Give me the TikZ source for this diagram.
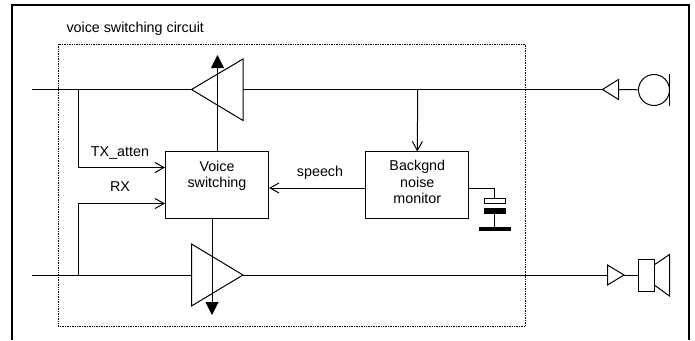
\documentclass[tikz,border=0pt]{standalone}
\usepackage{fontspec}
\setmainfont{Liberation Sans}
\usetikzlibrary{arrows.meta,calc}

\begin{document}
\begin{tikzpicture}[x=1pt, y=-1pt, line width=1pt,
		>={Straight Barb[length=9pt,width=10pt]},
		every node/.style={font=\fontsize{14.3}{16.2}\selectfont, inner sep=0pt},
		blockbox/.style={draw, align=center, minimum width=103pt, minimum height=66.5pt},
		bigtip/.style={-{Triangle[length=13pt,width=13pt]}},
		platefill/.style={draw, fill=black}]
		\useasboundingbox (0,0) rectangle (695,340);

		% Outer frame, open at the bottom
		\draw[line width=2pt] (11.5,340) -- (11.5,5) -- (689,5) -- (689,340);

		% Dotted circuit boundary
		\draw[dash pattern=on 0.8pt off 0.9pt, line width=0.9pt] (58,44) rectangle (525.5,326);
		\node[anchor=west] (title) at (66,29) {voice switching circuit};

		% Blocks
		\node[blockbox, text depth=21pt] (voice) at (217,185.2) {Voice\\switching};
		\node[blockbox, text depth=6.5pt] (monitor) at (417.3,185.2) {Backgnd\\noise\\monitor};

		% Points on the two lines
		\coordinate (txstart) at (32,89.5);
		\coordinate (txapex) at (191.5,89.5);
		\coordinate (txbase) at (243,89.5);
		\coordinate (txtap) at (78.5,89.5);
		\coordinate (montap) at (417.7,89.5);
		\coordinate (micapex) at (602.5,89.5);
		\coordinate (micbase) at (618.5,89.5);
		\coordinate (rxstart) at (32,275);
		\coordinate (rxbase) at (191.5,275);
		\coordinate (rxapex) at (243,275);
		\coordinate (rxtap) at (78.5,275);
		\coordinate (spkbase) at (607.5,275);
		\coordinate (spkapex) at (624,275);

		% Amplifier triangles
		\draw (txapex) -- ($(txbase)+(0,-30.5)$) -- ($(txbase)+(0,31)$) -- cycle;
		\draw (rxapex) -- ($(rxbase)+(0,-31)$) -- ($(rxbase)+(0,31)$) -- cycle;
		\draw (micapex) -- ($(micbase)+(0,-10)$) -- ($(micbase)+(0,10)$) -- cycle;
		\draw (spkapex) -- ($(spkbase)+(0,-10)$) -- ($(spkbase)+(0,10)$) -- cycle;

		% Microphone
		\node[draw, circle, minimum size=31pt] (mic) at (654,90) {};
		\draw (669.5,74) -- (669.5,106);

		% Speaker
		\node[draw, minimum width=15.5pt, minimum height=32pt] (spk) at (646.5,275) {};
		\draw (spk.north east) ++(0,6) -- (669.5,254.5) -- (669.5,296) -- (654.2,285);

		% Signal lines
		\draw (txstart) -- (txapex);
		\draw (txbase) -- (micapex);
		\draw (micbase) -- (mic);
		\draw (rxstart) -- (rxbase);
		\draw (rxapex) -- (spkbase);
		\draw (spkapex) -- (spk);

		% Control paths
		\draw[->] (txtap) |- (voice.west |- 0,167.5);
		\node (txlabel) at (120,152.5) {TX\_atten};
		\draw[->] (rxtap) |- (voice.west |- 0,203.5);
		\node (rxlabel) at (120,186.5) {RX};
		\draw[->] (montap) -- (monitor.north);
		\draw[->] (monitor.west |- 0,188) -- (voice.east |- 0,188);
		\node (speechlabel) at (320,172.5) {speech};

		% Gain outputs
		\coordinate (upend) at (217.5,55);
		\coordinate (downend) at (212,315);
		\draw[bigtip] (voice.north -| upend) -- (upend);
		\draw[bigtip] (voice.south -| downend) -- (downend);

		% Capacitor to ground
		\node[draw, minimum width=21pt, minimum height=5.5pt] (capa) at (494.7,200.8) {};
		\node[platefill, minimum width=21pt, minimum height=5.5pt] (capb) at (494.7,211) {};
		\node[platefill, minimum width=31pt, minimum height=3.5pt] (gnd) at (494.7,229) {};
		\draw (monitor.east |- 0,188) -| (capa.north);
		\draw (capb) -- (gnd);
	\end{tikzpicture}
\end{document}
